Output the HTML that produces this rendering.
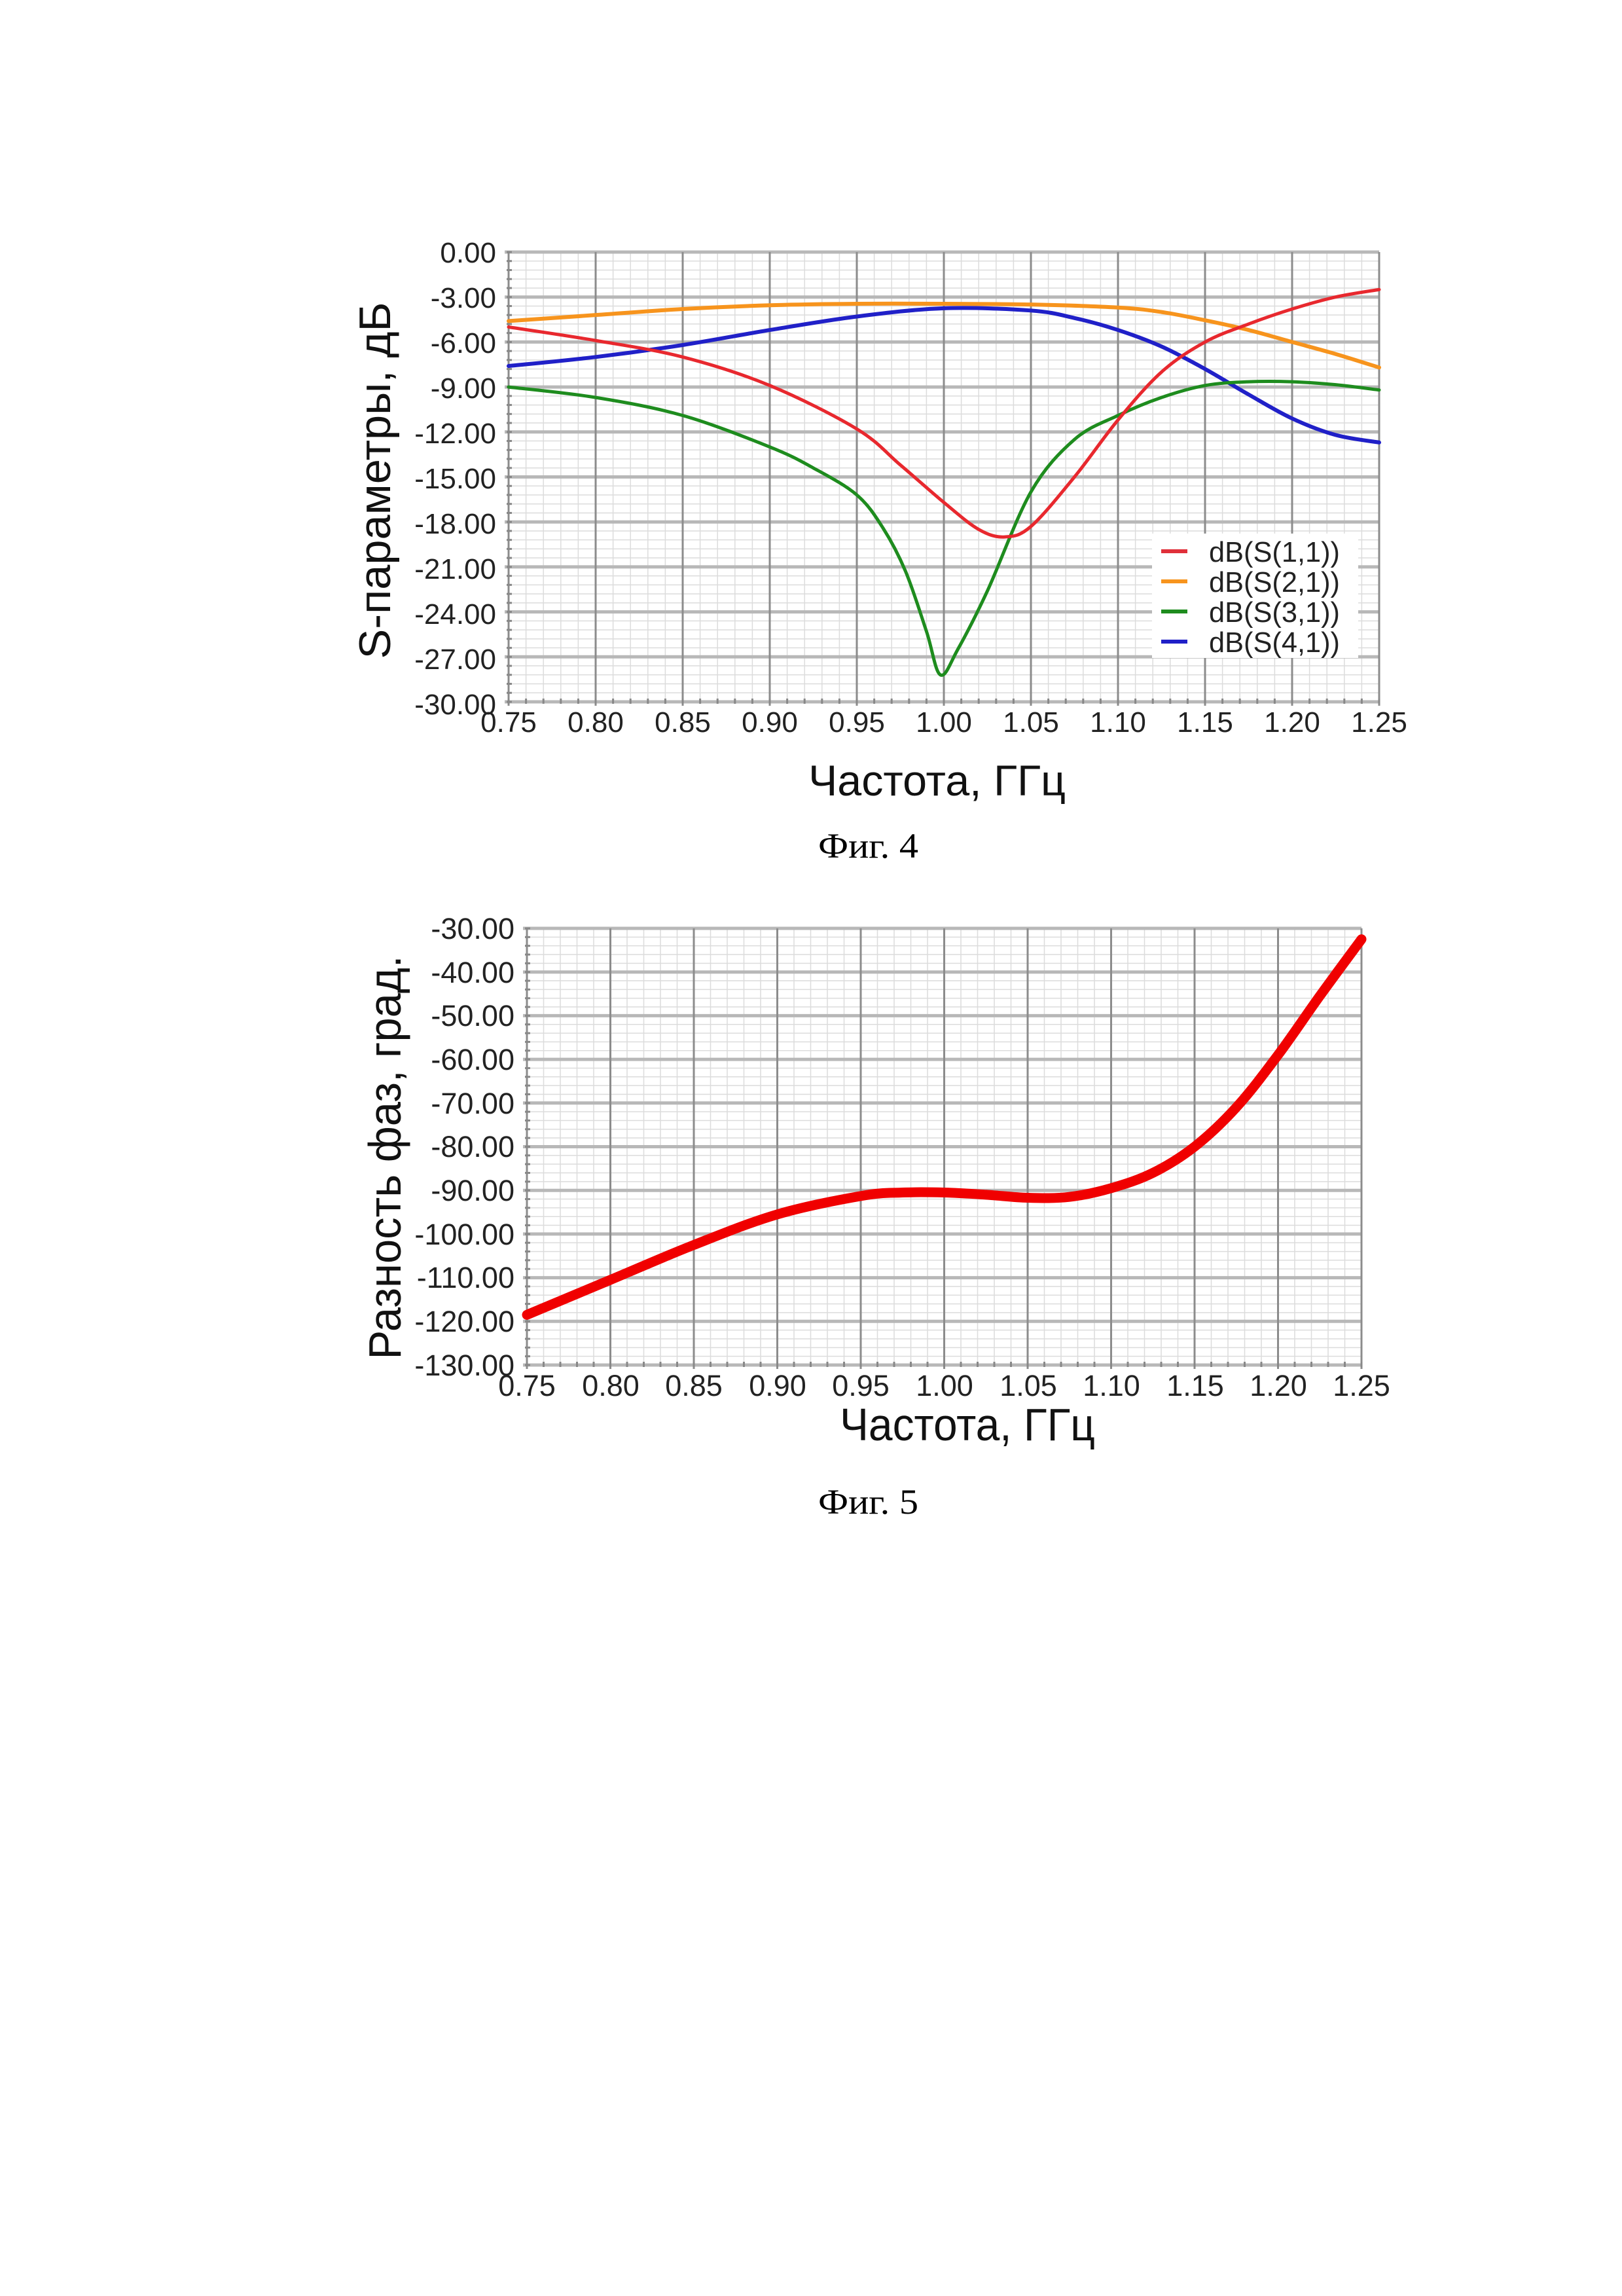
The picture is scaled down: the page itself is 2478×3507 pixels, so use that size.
<!DOCTYPE html>
<html><head><meta charset="utf-8">
<style>
html,body{margin:0;padding:0;background:#fff;}
svg{display:block;}
</style></head>
<body>
<svg id="s" xmlns="http://www.w3.org/2000/svg" width="2478" height="3507" viewBox="0 0 2478 3507">
<rect width="2478" height="3507" fill="#fff"/>
<g id="g1"></g>
<g id="g2"></g>
<g font-family="Liberation Sans, sans-serif" font-size="44" fill="#222" text-anchor="end">
<text x="758" y="401">0.00</text>
<text x="758" y="470">-3.00</text>
<text x="758" y="539">-6.00</text>
<text x="758" y="608">-9.00</text>
<text x="758" y="677">-12.00</text>
<text x="758" y="746">-15.00</text>
<text x="758" y="815">-18.00</text>
<text x="758" y="884">-21.00</text>
<text x="758" y="953">-24.00</text>
<text x="758" y="1022">-27.00</text>
<text x="758" y="1091">-30.00</text>
</g>
<g font-family="Liberation Sans, sans-serif" font-size="44" fill="#222" text-anchor="middle">
<text x="777" y="1118">0.75</text><text x="910" y="1118">0.80</text><text x="1043" y="1118">0.85</text>
<text x="1176" y="1118">0.90</text><text x="1309" y="1118">0.95</text><text x="1442" y="1118">1.00</text>
<text x="1575" y="1118">1.05</text><text x="1708" y="1118">1.10</text><text x="1841" y="1118">1.15</text>
<text x="1974" y="1118">1.20</text><text x="2107" y="1118">1.25</text>
</g>
<rect x="1760" y="815" width="315" height="190" fill="#fff"/>
<g stroke-width="6">
<line x1="1774" y1="842" x2="1814" y2="842" stroke="#e0303a"/>
<line x1="1774" y1="888" x2="1814" y2="888" stroke="#f7941d"/>
<line x1="1774" y1="934" x2="1814" y2="934" stroke="#1e8c1e"/>
<line x1="1774" y1="980" x2="1814" y2="980" stroke="#2020c8"/>
</g>
<g font-family="Liberation Sans, sans-serif" font-size="44" fill="#222">
<text x="1847" y="858" textLength="200" lengthAdjust="spacingAndGlyphs">dB(S(1,1))</text>
<text x="1847" y="904" textLength="200" lengthAdjust="spacingAndGlyphs">dB(S(2,1))</text>
<text x="1847" y="950" textLength="200" lengthAdjust="spacingAndGlyphs">dB(S(3,1))</text>
<text x="1847" y="996" textLength="200" lengthAdjust="spacingAndGlyphs">dB(S(4,1))</text>
</g>
<text transform="translate(596,734) rotate(-90)" text-anchor="middle" font-family="Liberation Sans, sans-serif" font-size="68" fill="#111" textLength="545" lengthAdjust="spacingAndGlyphs">S-параметры, дБ</text>
<text x="1235" y="1215" font-family="Liberation Sans, sans-serif" font-size="66" fill="#111" textLength="393" lengthAdjust="spacingAndGlyphs">Частота, ГГц</text>
<text x="1250" y="1310" font-family="Liberation Serif, serif" font-size="54" fill="#000" textLength="153" lengthAdjust="spacingAndGlyphs">Фиг. 4</text>

<g font-family="Liberation Sans, sans-serif" font-size="45" fill="#222" text-anchor="end">
<text x="786" y="1434">-30.00</text>
<text x="786" y="1501">-40.00</text>
<text x="786" y="1567">-50.00</text>
<text x="786" y="1634">-60.00</text>
<text x="786" y="1701">-70.00</text>
<text x="786" y="1767">-80.00</text>
<text x="786" y="1834">-90.00</text>
<text x="786" y="1901">-100.00</text>
<text x="786" y="1967">-110.00</text>
<text x="786" y="2034">-120.00</text>
<text x="786" y="2101">-130.00</text>
</g>
<g font-family="Liberation Sans, sans-serif" font-size="45" fill="#222" text-anchor="middle">
<text x="805" y="2132">0.75</text><text x="933" y="2132">0.80</text><text x="1060" y="2132">0.85</text>
<text x="1188" y="2132">0.90</text><text x="1315" y="2132">0.95</text><text x="1443" y="2132">1.00</text>
<text x="1571" y="2132">1.05</text><text x="1698" y="2132">1.10</text><text x="1826" y="2132">1.15</text>
<text x="1953" y="2132">1.20</text><text x="2080" y="2132">1.25</text>
</g>
<text transform="translate(612,1768) rotate(-90)" text-anchor="middle" font-family="Liberation Sans, sans-serif" font-size="70" fill="#111" textLength="617" lengthAdjust="spacingAndGlyphs">Разность фаз, град.</text>
<text x="1283" y="2200" font-family="Liberation Sans, sans-serif" font-size="70" fill="#111" textLength="390" lengthAdjust="spacingAndGlyphs">Частота, ГГц</text>
<text x="1250" y="2312" font-family="Liberation Serif, serif" font-size="54" fill="#000" textLength="153" lengthAdjust="spacingAndGlyphs">Фиг. 5</text>
</svg>
<script>
var NS="http://www.w3.org/2000/svg";
function el(p,t,a){var e=document.createElementNS(NS,t);for(var k in a)e.setAttribute(k,a[k]);p.appendChild(e);return e;}
function chart(g,L,R,T,B,ymax,ymin,hminor,series){
  var W=R-L,H=B-T;
  function X(f){return L+(f-0.75)/0.5*W;}
  function Y(v){return T+(ymax-v)/(ymax-ymin)*H;}
  for(var i=0;i<=50;i++){if(i%5==0)continue;var x=L+W*i/50;el(g,"line",{x1:x,y1:T,x2:x,y2:B,stroke:"#dcdcdc","stroke-width":1.5});}
  for(var i=0;i<=10*hminor;i++){if(i%hminor==0)continue;var y=T+H*i/(10*hminor);el(g,"line",{x1:L,y1:y,x2:R,y2:y,stroke:"#dcdcdc","stroke-width":1.5});}
  for(var i=0;i<=10;i++){var y=T+H*i/10;el(g,"line",{x1:L-6,y1:y,x2:R,y2:y,stroke:"#b8b8b8","stroke-width":5});}
  for(var i=0;i<=10;i++){var x=L+W*i/10;el(g,"line",{x1:x,y1:T,x2:x,y2:B+6,stroke:"#8c8c8c","stroke-width":3});}
  for(var i=0;i<=50;i++){var x=L+W*i/50;el(g,"line",{x1:x,y1:B-5,x2:x,y2:B+3,stroke:"#888","stroke-width":3});}
  for(var i=0;i<=10*hminor;i++){var y=T+H*i/(10*hminor);el(g,"line",{x1:L-3,y1:y,x2:L+5,y2:y,stroke:"#888","stroke-width":3});}
  series.forEach(function(s){
    var p=s.pts.map(function(q){return [X(q[0]),Y(q[1])];});
    var d="M"+p[0][0]+","+p[0][1];
    for(var i=0;i<p.length-1;i++){
      var p0=p[Math.max(0,i-1)],p1=p[i],p2=p[i+1],p3=p[Math.min(p.length-1,i+2)];
      var c1x=p1[0]+(p2[0]-p0[0])/6,c1y=p1[1]+(p2[1]-p0[1])/6;
      var c2x=p2[0]-(p3[0]-p1[0])/6,c2y=p2[1]-(p3[1]-p1[1])/6;
      d+=" C"+c1x+","+c1y+" "+c2x+","+c2y+" "+p2[0]+","+p2[1];
    }
    el(g,"path",{d:d,fill:"none",stroke:s.c,"stroke-width":s.w,"stroke-linejoin":"round","stroke-linecap":"round"});
  });
}
chart(document.getElementById("g1"),777,2107,385,1072,0,-30,5,[
 {c:"#f7941d",w:6,pts:[[0.75,-4.6],[0.80,-4.2],[0.85,-3.8],[0.90,-3.55],[0.95,-3.45],[1.0,-3.45],[1.05,-3.5],[1.10,-3.7],[1.125,-4.0],[1.15,-4.55],[1.175,-5.2],[1.20,-6.0],[1.225,-6.8],[1.25,-7.7]]},
 {c:"#2020c8",w:6,pts:[[0.75,-7.6],[0.80,-7.0],[0.85,-6.2],[0.90,-5.2],[0.95,-4.3],[1.0,-3.75],[1.05,-3.9],[1.075,-4.4],[1.10,-5.2],[1.125,-6.3],[1.15,-7.8],[1.175,-9.5],[1.20,-11.1],[1.225,-12.2],[1.25,-12.7]]},
 {c:"#1e8c1e",w:5,pts:[[0.75,-9.0],[0.80,-9.7],[0.85,-10.9],[0.90,-13.0],[0.925,-14.4],[0.95,-16.2],[0.965,-18.4],[0.978,-21.3],[0.99,-25.3],[0.998,-28.2],[1.008,-26.5],[1.025,-22.6],[1.05,-16.0],[1.075,-12.5],[1.10,-10.9],[1.125,-9.7],[1.15,-8.9],[1.175,-8.65],[1.20,-8.65],[1.225,-8.85],[1.25,-9.2]]},
 {c:"#e8282e",w:5,pts:[[0.75,-5.0],[0.80,-5.9],[0.85,-7.0],[0.90,-8.9],[0.95,-11.8],[0.975,-14.2],[1.0,-16.7],[1.02,-18.5],[1.035,-19.0],[1.05,-18.3],[1.075,-15.0],[1.10,-11.2],[1.125,-8.0],[1.15,-6.0],[1.175,-4.8],[1.20,-3.8],[1.225,-3.0],[1.25,-2.5]]}
]);
chart(document.getElementById("g2"),805,2080,1418,2085,-30,-130,5,[
 {c:"#f00000",w:15,pts:[[0.75,-118.5],[0.80,-110.5],[0.85,-102.5],[0.90,-95.5],[0.95,-91.3],[0.975,-90.5],[1.0,-90.5],[1.025,-91],[1.05,-91.7],[1.075,-91.5],[1.10,-89.5],[1.125,-86],[1.15,-80],[1.175,-71],[1.20,-59],[1.225,-45.5],[1.25,-32.5]]}
]);
</script>
</body></html>
